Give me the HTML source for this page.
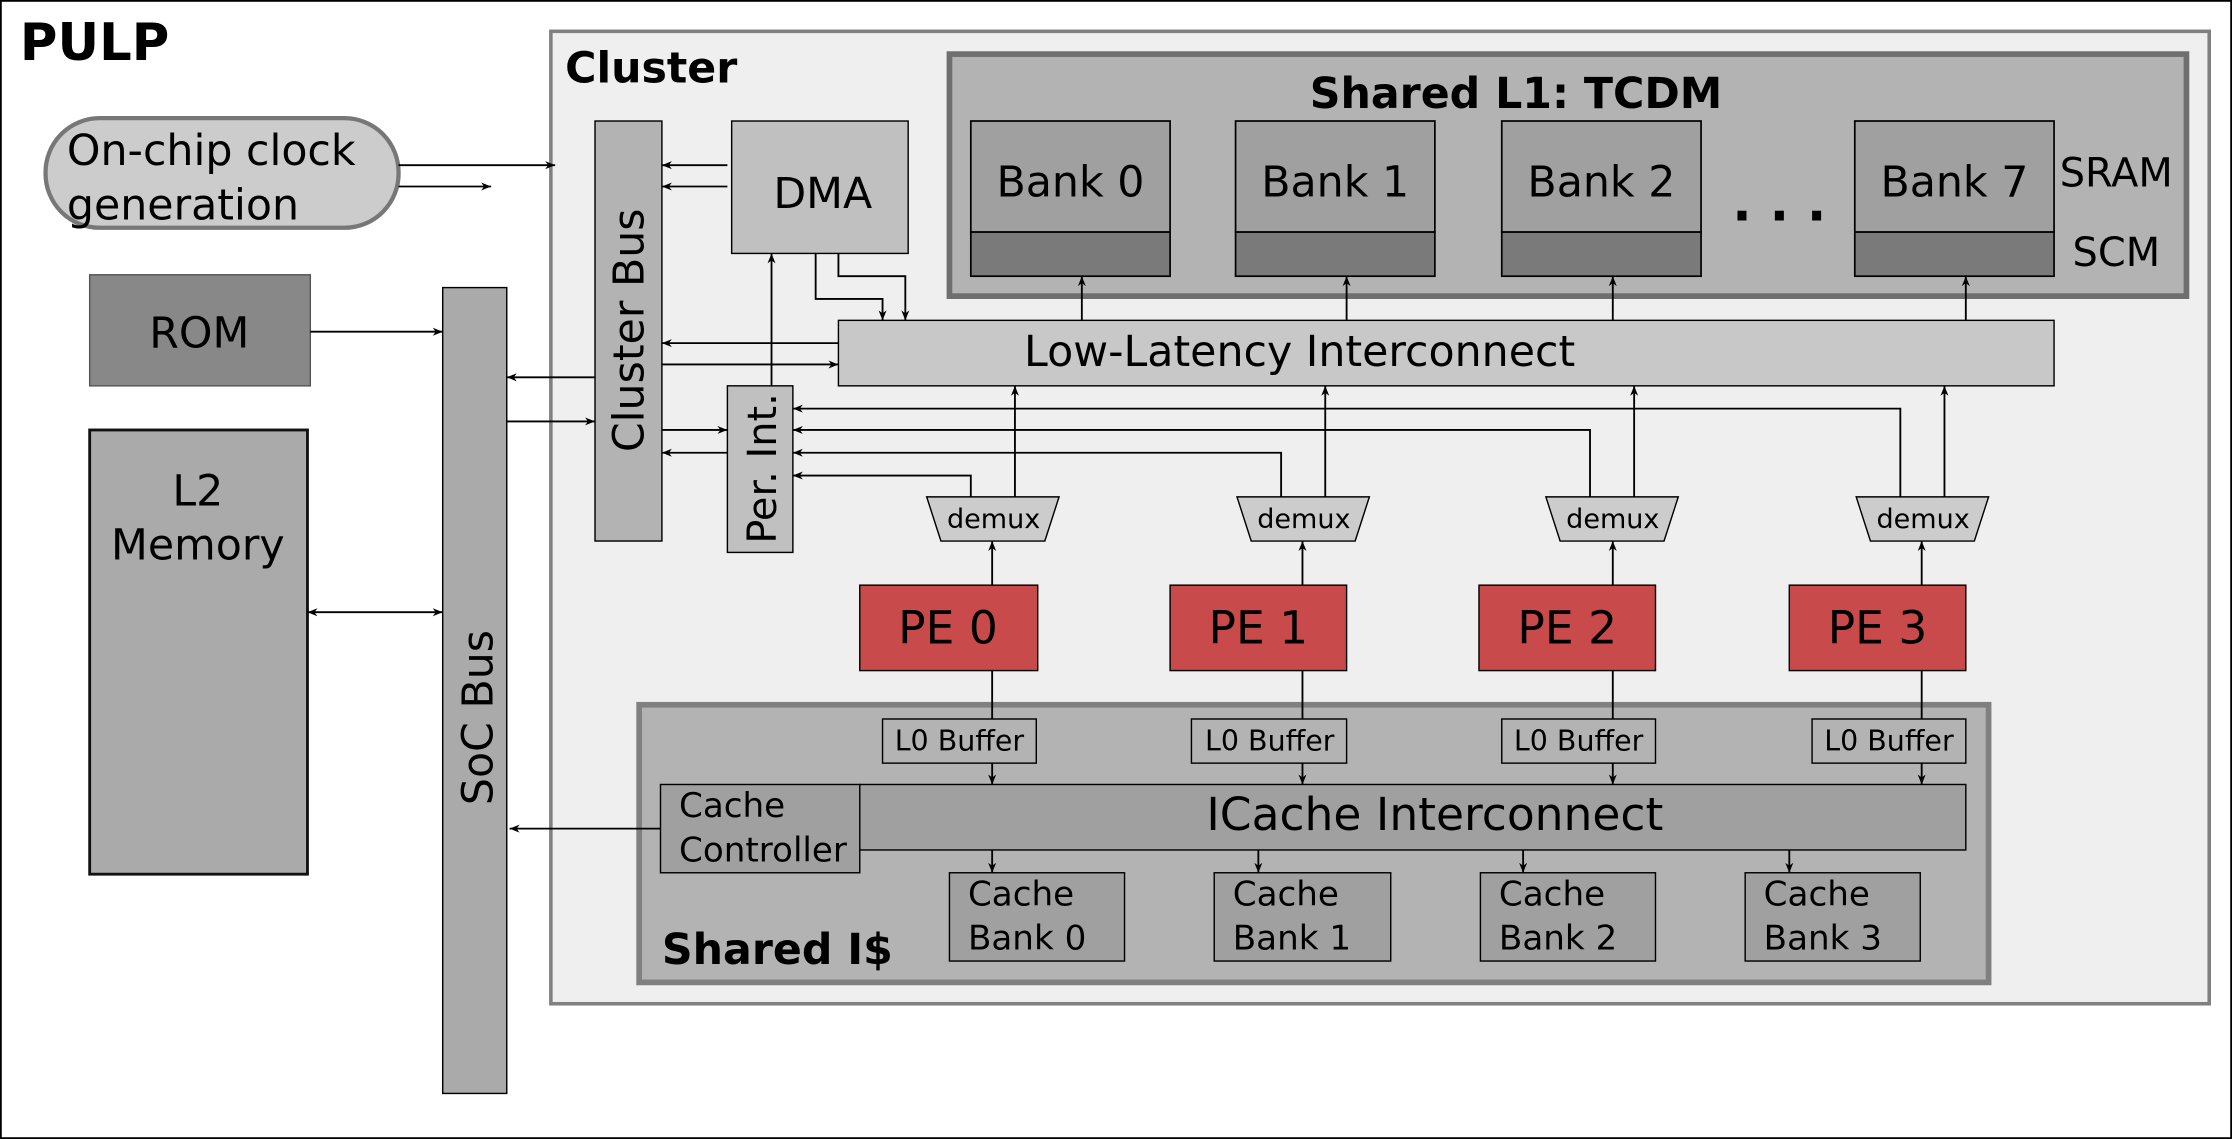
<!DOCTYPE html>
<html><head><meta charset="utf-8"><style>
html,body{margin:0;padding:0;background:#fff}
svg{display:block}
text{font-family:"DejaVu Sans","Liberation Sans",sans-serif;fill:#000}
</style></head><body>
<svg width="2232" height="1139" viewBox="0 0 1568 800" preserveAspectRatio="none" xmlns="http://www.w3.org/2000/svg">
<defs>
<marker id="a" viewBox="0 0 10 10" refX="10" refY="5" markerWidth="7" markerHeight="7" orient="auto-start-reverse" markerUnits="userSpaceOnUse"><path d="M0,1 L10,5 L0,9 L3,5 z" fill="#000"/></marker>
</defs>
<rect x="0.5" y="0.5" width="1567" height="799" fill="#fff" stroke="#000" stroke-width="1.5"/>
<text x="14" y="42" font-size="36" font-weight="bold">PULP</text>

<!-- Cluster -->
<rect x="387" y="22" width="1165" height="683" fill="#efefef" stroke="#808080" stroke-width="2.5"/>
<text x="397" y="58" font-size="30" font-weight="bold">Cluster</text>

<!-- TCDM -->
<rect x="667" y="38" width="869" height="170" fill="#b3b3b3" stroke="#6f6f6f" stroke-width="4"/>
<text x="1065" y="76" font-size="30" font-weight="bold" text-anchor="middle">Shared L1: TCDM</text>
<g stroke="#000" stroke-width="1.2">
<rect x="682" y="85" width="140" height="78" fill="#a0a0a0"/><rect x="682" y="163" width="140" height="31" fill="#7a7a7a"/>
<rect x="868" y="85" width="140" height="78" fill="#a0a0a0"/><rect x="868" y="163" width="140" height="31" fill="#7a7a7a"/>
<rect x="1055" y="85" width="140" height="78" fill="#a0a0a0"/><rect x="1055" y="163" width="140" height="31" fill="#7a7a7a"/>
<rect x="1303" y="85" width="140" height="78" fill="#a0a0a0"/><rect x="1303" y="163" width="140" height="31" fill="#7a7a7a"/>
</g>
<g font-size="30" text-anchor="middle">
<text x="752" y="138">Bank 0</text><text x="938" y="138">Bank 1</text><text x="1125" y="138">Bank 2</text><text x="1373" y="138">Bank 7</text>
</g>
<text x="1250" y="155" font-size="36" font-weight="bold" text-anchor="middle">. . .</text>
<text x="1447" y="131" font-size="28">SRAM</text>
<text x="1456" y="187" font-size="28">SCM</text>

<!-- Low latency -->
<rect x="589" y="225" width="854" height="46" fill="#c8c8c8" stroke="#000" stroke-width="1"/>
<text x="913" y="257" font-size="30" text-anchor="middle">Low-Latency Interconnect</text>

<!-- Cluster bus, DMA, Per Int -->
<rect x="418" y="85" width="47" height="295" fill="#b3b3b3" stroke="#000" stroke-width="1"/>
<text transform="translate(452,232) rotate(-90)" font-size="30" text-anchor="middle">Cluster Bus</text>
<rect x="514" y="85" width="124" height="93" fill="#c0c0c0" stroke="#000" stroke-width="1"/>
<text x="578" y="146" font-size="30" text-anchor="middle">DMA</text>
<rect x="511" y="271" width="46" height="117" fill="#c0c0c0" stroke="#000" stroke-width="1"/>
<text transform="translate(545,329) rotate(-90)" font-size="28" text-anchor="middle">Per. Int.</text>

<!-- SoC -->
<rect x="311" y="202" width="45" height="566" fill="#aaaaaa" stroke="#000" stroke-width="1"/>
<text transform="translate(346,504) rotate(-90)" font-size="30" text-anchor="middle">SoC Bus</text>
<rect x="63" y="193" width="155" height="78" fill="#888" stroke="#555" stroke-width="1"/>
<text x="140" y="244" font-size="30" text-anchor="middle">ROM</text>
<rect x="63" y="302" width="153" height="312" fill="#aaaaaa" stroke="#111" stroke-width="2"/>
<text x="139" y="355" font-size="30" text-anchor="middle">L2</text>
<text x="139" y="393" font-size="30" text-anchor="middle">Memory</text>
<rect x="32" y="83" width="248" height="77" rx="38" fill="#cccccc" stroke="#777" stroke-width="3"/>
<text x="47" y="116" font-size="30">On-chip clock</text>
<text x="47" y="154" font-size="30">generation</text>

<!-- PEs -->
<g fill="#c94a4a" stroke="#000" stroke-width="1">
<rect x="604" y="411" width="125" height="60"/><rect x="822" y="411" width="124" height="60"/>
<rect x="1039" y="411" width="124" height="60"/><rect x="1257" y="411" width="124" height="60"/>
</g>
<g font-size="32" text-anchor="middle">
<text x="666" y="452">PE 0</text><text x="884" y="452">PE 1</text><text x="1101" y="452">PE 2</text><text x="1319" y="452">PE 3</text>
</g>
<!-- demux -->
<g fill="#cccccc" stroke="#000" stroke-width="1">
<path d="M651,349 L744,349 L734,380 L661,380 z"/>
<path d="M869,349 L962,349 L952,380 L879,380 z"/>
<path d="M1086,349 L1179,349 L1169,380 L1096,380 z"/>
<path d="M1304,349 L1397,349 L1387,380 L1314,380 z"/>
</g>
<g font-size="19" text-anchor="middle">
<text x="698" y="371">demux</text><text x="916" y="371">demux</text><text x="1133" y="371">demux</text><text x="1351" y="371">demux</text>
</g>

<!-- Shared I$ -->
<rect x="449" y="495" width="948" height="195" fill="#b3b3b3" stroke="#808080" stroke-width="4"/>
<text x="465" y="677" font-size="30" font-weight="bold">Shared I$</text>
<g fill="#b3b3b3" stroke="#000" stroke-width="1">
<rect x="620" y="505" width="108" height="31"/><rect x="837" y="505" width="109" height="31"/>
<rect x="1055" y="505" width="108" height="31"/><rect x="1273" y="505" width="108" height="31"/>
</g>
<g font-size="20" text-anchor="middle">
<text x="674" y="527">L0 Buffer</text><text x="892" y="527">L0 Buffer</text><text x="1109" y="527">L0 Buffer</text><text x="1327" y="527">L0 Buffer</text>
</g>
<rect x="604" y="551" width="777" height="46" fill="#a0a0a0" stroke="#000" stroke-width="1"/>
<text x="1008" y="583" font-size="32" text-anchor="middle">ICache Interconnect</text>
<rect x="464" y="551" width="140" height="62" fill="#a0a0a0" stroke="#000" stroke-width="1"/>
<text x="477" y="574" font-size="24">Cache</text><text x="477" y="605" font-size="24">Controller</text>
<g fill="#a0a0a0" stroke="#000" stroke-width="1">
<rect x="667" y="613" width="123" height="62"/><rect x="853" y="613" width="124" height="62"/>
<rect x="1040" y="613" width="123" height="62"/><rect x="1226" y="613" width="123" height="62"/>
</g>
<g font-size="24">
<text x="680" y="636">Cache</text><text x="680" y="667">Bank 0</text>
<text x="866" y="636">Cache</text><text x="866" y="667">Bank 1</text>
<text x="1053" y="636">Cache</text><text x="1053" y="667">Bank 2</text>
<text x="1239" y="636">Cache</text><text x="1239" y="667">Bank 3</text>
</g>

<!-- connectors -->
<g stroke="#000" stroke-width="1.3" fill="none" marker-end="url(#a)">
<line x1="280" y1="116" x2="390" y2="116"/>
<line x1="280" y1="131" x2="345" y2="131"/>
<line x1="218" y1="233" x2="311" y2="233"/>
<line x1="216" y1="430" x2="311" y2="430" marker-start="url(#a)"/>
<line x1="418" y1="265" x2="356" y2="265"/>
<line x1="356" y1="296" x2="418" y2="296"/>
<line x1="511" y1="116" x2="465" y2="116"/>
<line x1="511" y1="131" x2="465" y2="131"/>
<line x1="589" y1="241" x2="465" y2="241"/>
<line x1="465" y1="256" x2="589" y2="256"/>
<line x1="465" y1="302" x2="511" y2="302"/>
<line x1="511" y1="318" x2="465" y2="318"/>
<line x1="542" y1="271" x2="542" y2="178"/>
<polyline points="573,178 573,210 620,210 620,225"/>
<polyline points="589,178 589,194 636,194 636,225"/>
<line x1="760" y1="225" x2="760" y2="194"/>
<line x1="946" y1="225" x2="946" y2="194"/>
<line x1="1133" y1="225" x2="1133" y2="194"/>
<line x1="1381" y1="225" x2="1381" y2="194"/>
<line x1="697" y1="411" x2="697" y2="380"/>
<line x1="915" y1="411" x2="915" y2="380"/>
<line x1="1133" y1="411" x2="1133" y2="380"/>
<line x1="1350" y1="411" x2="1350" y2="380"/>
<line x1="713" y1="349" x2="713" y2="271"/>
<line x1="931" y1="349" x2="931" y2="271"/>
<line x1="1148" y1="349" x2="1148" y2="271"/>
<line x1="1366" y1="349" x2="1366" y2="271"/>
<polyline points="682,349 682,334 557,334"/>
<polyline points="900,349 900,318 557,318"/>
<polyline points="1117,349 1117,302 557,302"/>
<polyline points="1335,349 1335,287 557,287"/>
<line x1="697" y1="536" x2="697" y2="551"/>
<line x1="915" y1="536" x2="915" y2="551"/>
<line x1="1133" y1="536" x2="1133" y2="551"/>
<line x1="1350" y1="536" x2="1350" y2="551"/>
<line x1="464" y1="582" x2="358" y2="582"/>
<line x1="697" y1="597" x2="697" y2="613"/>
<line x1="884" y1="597" x2="884" y2="613"/>
<line x1="1070" y1="597" x2="1070" y2="613"/>
<line x1="1257" y1="597" x2="1257" y2="613"/>
</g>
<g stroke="#000" stroke-width="1.3">
<line x1="697" y1="471" x2="697" y2="505"/>
<line x1="915" y1="471" x2="915" y2="505"/>
<line x1="1133" y1="471" x2="1133" y2="505"/>
<line x1="1350" y1="471" x2="1350" y2="505"/>
</g>
</svg>
</body></html>
